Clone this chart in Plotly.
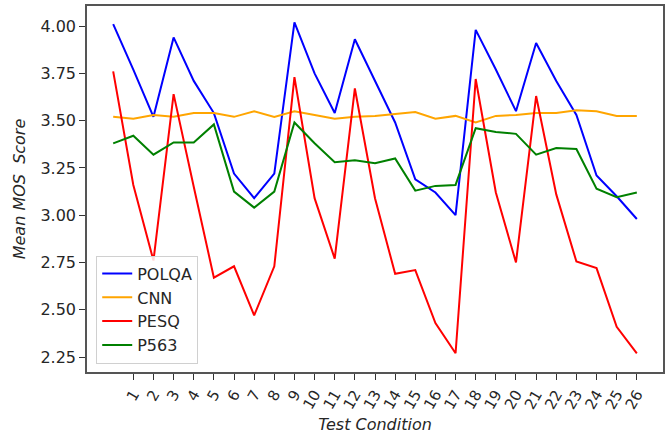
import plotly.graph_objects as go

x_idx = list(range(27))
tick_vals = list(range(1, 27))
tick_text = [str(i) for i in tick_vals]

polqa = [4.01, 3.77, 3.52, 3.94, 3.71, 3.54, 3.22, 3.09, 3.22,
         4.02, 3.75, 3.54, 3.93, 3.71, 3.49, 3.19, 3.12, 3.00,
         3.98, 3.77, 3.55, 3.91, 3.71, 3.53, 3.21, 3.10, 2.98]
cnn = [3.52, 3.51, 3.53, 3.52, 3.54, 3.54, 3.52, 3.55, 3.52,
       3.55, 3.53, 3.51, 3.52, 3.525, 3.535, 3.545, 3.51, 3.525,
       3.49, 3.525, 3.53, 3.54, 3.54, 3.555, 3.55, 3.525, 3.525]
pesq = [3.76, 3.16, 2.76, 3.64, 3.15, 2.67, 2.73, 2.47, 2.73,
        3.73, 3.09, 2.77, 3.67, 3.09, 2.69, 2.71, 2.43, 2.27,
        3.72, 3.12, 2.75, 3.63, 3.11, 2.755, 2.72, 2.41, 2.27]
p563 = [3.38, 3.42, 3.32, 3.385, 3.385, 3.48, 3.125, 3.04, 3.125,
        3.49, 3.38, 3.28, 3.29, 3.275, 3.30, 3.13, 3.155, 3.16,
        3.46, 3.44, 3.43, 3.32, 3.355, 3.35, 3.14, 3.095, 3.12]

series = [("POLQA", polqa, "#0000ff"), ("CNN", cnn, "#ffa500"),
          ("PESQ", pesq, "#ff0000"), ("P563", p563, "#008000")]

fig = go.Figure()
for name, vals, col in series:
    fig.add_trace(go.Scatter(x=x_idx, y=vals, mode="lines", name=name,
                             line=dict(color=col, width=2)))

font_fam = "DejaVu Sans, sans-serif"
fig.update_layout(
    width=668, height=437,
    margin=dict(l=87, r=5, t=6, b=65),
    paper_bgcolor="white", plot_bgcolor="white",
    font=dict(family=font_fam, color="#262626", size=16),
    showlegend=True,
    legend=dict(x=0.016, y=0.023, xanchor="left", yanchor="bottom",
                bgcolor="rgba(255,255,255,0.85)", bordercolor="#d0d0d0",
                borderwidth=1, font=dict(size=16, color="#262626"),
                tracegroupgap=0),
)
fig.update_xaxes(
    range=[-1.3, 27.3], tickmode="array", tickvals=tick_vals, ticktext=tick_text,
    tickangle=-60, ticks="outside", ticklen=6, tickcolor="#333",
    showline=True, mirror=True, linecolor="#555", linewidth=1.5,
    showgrid=False, zeroline=False, automargin=False,
    tickfont=dict(size=15),
    title=dict(text="<i>Test Condition</i>", font=dict(size=16), standoff=7),
)
fig.update_yaxes(
    range=[2.171, 4.106], tickmode="array",
    tickvals=[2.25, 2.5, 2.75, 3.0, 3.25, 3.5, 3.75, 4.0],
    ticktext=["2.25", "2.50", "2.75", "3.00", "3.25", "3.50", "3.75", "4.00"],
    ticks="outside", ticklen=6, tickcolor="#333",
    showline=True, mirror=True, linecolor="#555", linewidth=1.5,
    showgrid=False, zeroline=False, automargin=False,
    tickfont=dict(size=16),
    title=dict(text="<i>Mean MOS\u00a0 Score</i>", font=dict(size=16), standoff=11),
)

fig.write_html("out.html", config={"displayModeBar": False},
               post_script="document.body.style.margin='0';")
